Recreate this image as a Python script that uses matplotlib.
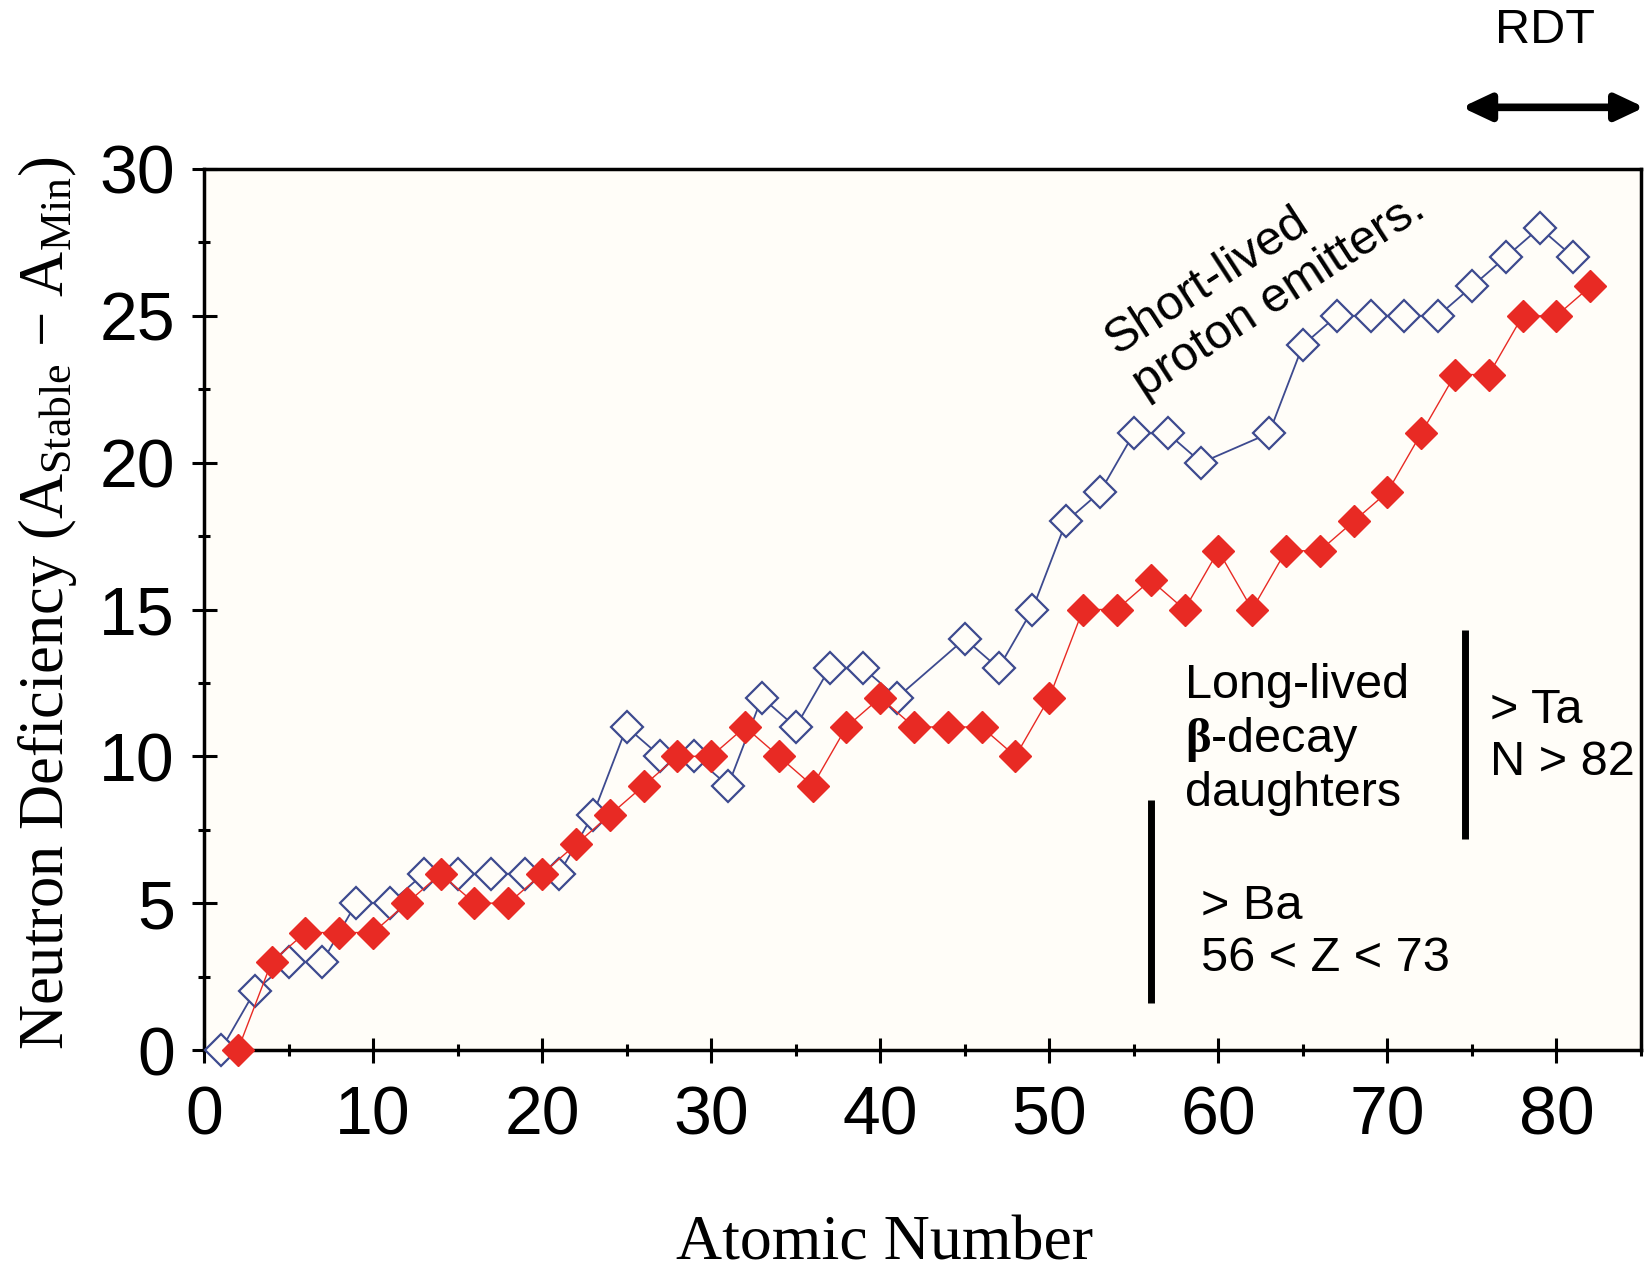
import matplotlib
matplotlib.use("Agg")
import matplotlib.pyplot as plt
from matplotlib.ticker import MultipleLocator

plt.rcParams['mathtext.fontset'] = 'custom'
plt.rcParams['mathtext.rm'] = 'Liberation Serif'
plt.rcParams['mathtext.it'] = 'Liberation Serif:italic'
plt.rcParams['mathtext.bf'] = 'Liberation Serif:bold'

# ---- data ----
blue_z = [1, 3, 5, 7, 9, 11, 13, 15, 17, 19, 21, 23, 25, 27, 29, 31, 33, 35, 37, 39, 41,
          45, 47, 49, 51, 53, 55, 57, 59,
          63, 65, 67, 69, 71, 73, 75, 77, 79, 81]
blue_v = [0, 2, 3, 3, 5, 5, 6, 6, 6, 6, 6, 8, 11, 10, 10, 9, 12, 11, 13, 13, 12,
          14, 13, 15, 18, 19, 21, 21, 20,
          21, 24, 25, 25, 25, 25, 26, 27, 28, 27]

red_z = list(range(2, 83, 2))
red_v = [0, 3, 4, 4, 4, 5, 6, 5, 5, 6, 7, 8, 9, 10, 10, 11, 10, 9, 11, 12, 11,
         11, 11, 10, 12, 15, 15, 16, 15, 17, 15, 17, 17, 18, 19, 21, 23, 23, 25, 25, 26]

x_ticks = [0, 10, 20, 30, 40, 50, 60, 70, 80]
y_ticks = [0, 5, 10, 15, 20, 25, 30]

BLUE = '#3D4A8F'
RED = '#E82A24'
BG = '#FFFDF8'

fig = plt.figure(figsize=(16.44, 12.73), dpi=100)
ax = fig.add_axes([204 / 1644, 1 - 1050 / 1273, (1641 - 204) / 1644, (1050 - 169) / 1273])
ax.set_facecolor(BG)

ax.plot(blue_z, blue_v, color=BLUE, lw=1.3, marker='D', ms=16.5, mfc=BG, mec=BLUE,
        mew=1.6, zorder=3, clip_on=False)
ax.plot(red_z, red_v, color=RED, lw=1.0, marker='D', ms=16.5, mfc=RED, mec=RED,
        mew=1.0, zorder=4, clip_on=False)

ax.set_xlim(0, 85)
ax.set_ylim(0, 30)
ax.set_xticks(x_ticks)
ax.set_yticks(y_ticks)
ax.xaxis.set_minor_locator(MultipleLocator(5))
ax.yaxis.set_minor_locator(MultipleLocator(2.5))
ax.tick_params(which='both', direction='inout', width=2.2, top=False, right=False)
ax.tick_params(which='major', length=18)
ax.tick_params(which='minor', length=9)
ax.tick_params(axis='x', which='major', pad=16)
ax.tick_params(axis='y', which='major', pad=12)
for lab in ax.get_xticklabels() + ax.get_yticklabels():
    lab.set_fontfamily('Liberation Sans')
    lab.set_fontsize(49)
for sp in ax.spines.values():
    sp.set_linewidth(2.5)

# axis labels
fig.text(0.029, 0.526,
         'Neutron Deficiency (A$_{\\mathrm{Stable}}$ \u2212 A$_{\\mathrm{Min}}$)',
         rotation=90, ha='center', va='center', family='Liberation Serif', fontsize=45)
fig.text(0.538, 1 - 1259 / 1273, 'Atomic Number', ha='center', va='baseline',
         family='Liberation Serif', fontsize=46)

sans = 'Liberation Sans'
# annotations
ax.text(62.8, 26.4, 'Short-lived\nproton emitters.', rotation=33, ha='center', va='center',
        multialignment='left', family=sans, fontsize=35, zorder=5)
ax.text(58.0, 8.3, 'Long-lived\n$\\mathbf{\\beta}$-decay\ndaughters', ha='left', va='baseline',
        family=sans, fontsize=35, linespacing=1.2)
ax.text(76.05, 9.35, '> Ta\nN > 82', ha='left', va='baseline', family=sans, fontsize=35,
        linespacing=1.2)
ax.text(59.0, 2.7, '> Ba\n56 < Z < 73', ha='left', va='baseline', family=sans, fontsize=35,
        linespacing=1.2)
ax.plot([56.0, 56.0], [1.6, 8.5], color='black', lw=5, solid_capstyle='butt')
ax.plot([74.6, 74.6], [7.2, 14.3], color='black', lw=5, solid_capstyle='butt')

ax.text(79.3, 34.7, 'RDT', ha='center', va='center', family=sans, fontsize=35,
        clip_on=False)
ax.annotate('', xy=(85.2, 32.1), xytext=(74.4, 32.1), xycoords='data',
            annotation_clip=False,
            arrowprops=dict(arrowstyle='<|-|>,head_length=17,head_width=8',
                            mutation_scale=1, lw=5.5, color='black',
                            shrinkA=0, shrinkB=0))

fig.savefig('out.png', dpi=100)
